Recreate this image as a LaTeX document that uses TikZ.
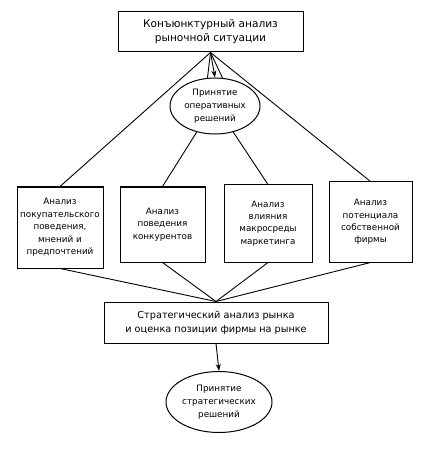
\documentclass[tikz,border=0pt]{standalone}
\usepackage{fontspec}
\setmainfont{DejaVu Sans}
\usetikzlibrary{shapes.geometric,arrows.meta}
\tikzset{
  blok/.style={draw,rectangle,line width=1pt,align=center,inner sep=1pt,
    font=\fontsize{8.8}{12.4}\selectfont},
  oval/.style={draw,ellipse,line width=1pt,align=center,inner sep=0pt,
    font=\fontsize{8.8}{12.8}\selectfont},
  svyaz/.style={line width=0.9pt},
  strelka/.style={line width=0.9pt,-{Stealth[length=7pt,width=5pt]}}
}
\begin{document}
\begin{tikzpicture}[x=1pt,y=-1pt]
  \useasboundingbox (0,0) rectangle (422,454);
  \draw
    (210.5,32) node[blok,minimum width=185pt,minimum height=40pt,
      font=\fontsize{10.6}{14}\selectfont] (konj){Конъюнктурный анализ\\рыночной ситуации}
    (215,106) node[oval,minimum width=90pt,minimum height=56pt] (oper){Принятие\\оперативных\\решений}
    (60,227.5) node[blok,minimum width=86pt,minimum height=81pt] (pokup){Анализ\\покупательского\\поведения,\\мнений и\\предпочтений}
    (162.5,224.5) node[blok,minimum width=85pt,minimum height=75pt] (konk){Анализ\\поведения\\конкурентов}
    (268,223.5) node[blok,minimum width=88pt,minimum height=77pt] (makro){Анализ\\влияния\\макросреды\\маркетинга}
    (370.5,222) node[blok,minimum width=83pt,minimum height=80pt] (potenc){Анализ\\потенциала\\собственной\\фирмы}
    (216,322.5) node[blok,minimum width=224pt,minimum height=41pt,
      font=\fontsize{9.7}{14}\selectfont] (strat){Стратегический анализ рынка\\и оценка позиции фирмы на рынке}
    (219,402) node[oval,minimum width=106pt,minimum height=61pt] (strres){Принятие\\стратегических\\решений};
  \begin{scope}[svyaz]
    \draw (konj.south) to (pokup.north);
    \draw (konj.south) to (potenc.north);
    \draw (konj.south) to (oper.105);
    \draw (konj.south) to (oper.75);
    \draw (oper.-125) to (konk.north);
    \draw (oper.-55) to (makro.north);
    \draw (pokup.south) to (strat.north);
    \draw (konk.south) to (strat.north);
    \draw (makro.south) to (strat.north);
    \draw (potenc.south) to (strat.north);
  \end{scope}
  \draw[strelka] (konj.south) to (oper.north);
  \draw[strelka] (strat.south) to (strres.north);
\end{tikzpicture}
\end{document}
